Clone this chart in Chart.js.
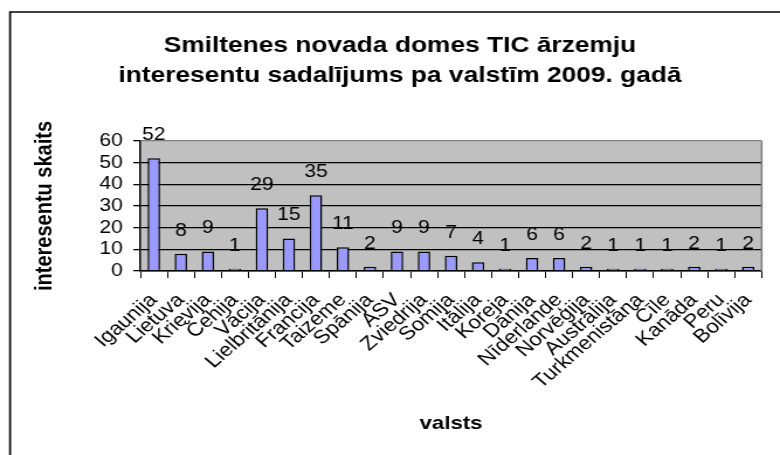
<!DOCTYPE html>
<html>
<head>
<meta charset="utf-8">
<script src="https://cdn.jsdelivr.net/npm/chart.js@4/dist/chart.umd.min.js"></script>
<style>
  html, body { margin: 0; padding: 0; background: #ffffff; overflow: hidden; }
  #c { display: block; transform-origin: 0 0; transform: scaleX(1.1694); }
</style>
</head>
<body>
<canvas id="c" width="667" height="455" style="width:667px;height:455px"></canvas>
<script>
const titleLines = ["Smiltenes novada domes TIC ārzemju", "interesentu sadalījums pa valstīm 2009. gadā"];
const yAxisTitle = "interesentu skaits";
const xAxisTitle = "valsts";
const countries = ["Igaunija", "Lietuva", "Krievija", "Čehija", "Vācija", "Lielbritānija", "Francija", "Taizeme", "Spānija", "ASV", "Zviedrija", "Somija", "Itālija", "Koreja", "Dānija", "Nīderlande", "Norvēģija", "Austrālija", "Turkmenistāna", "Čīle", "Kanāda", "Peru", "Bolīvija"];
const visitors = [52, 8, 9, 1, 29, 15, 35, 11, 2, 9, 9, 7, 4, 1, 6, 6, 2, 1, 1, 1, 2, 1, 2];
const yTicks = [0, 10, 20, 30, 40, 50, 60];

const FONT = "'Liberation Sans', Arial, sans-serif";

const decorPlugin = {
  id: 'decor',
  beforeDraw(chart) {
    const ctx = chart.ctx;
    const a = chart.chartArea;
    ctx.save();
    ctx.fillStyle = '#C0C0C0';
    ctx.fillRect(a.left, a.top, a.right - a.left, a.bottom - a.top);
    ctx.restore();
  },
  afterDatasetsDraw(chart) {
    const ctx = chart.ctx;
    const a = chart.chartArea;
    ctx.save();
    ctx.strokeStyle = '#808080';
    ctx.lineWidth = 1.5;
    ctx.beginPath();
    ctx.moveTo(a.right, a.top);
    ctx.lineTo(a.right, a.bottom);
    ctx.stroke();
    const meta = chart.getDatasetMeta(0);
    ctx.fillStyle = '#000';
    ctx.font = '18px ' + FONT;
    ctx.textAlign = 'center';
    ctx.textBaseline = 'middle';
    meta.data.forEach((bar, i) => {
      ctx.fillText(String(visitors[i]), bar.x, bar.y - 23);
    });
    ctx.restore();
  },
  afterDraw(chart) {
    const ctx = chart.ctx;
    ctx.save();
    ctx.fillStyle = '#000';
    ctx.font = 'bold 22.5px ' + FONT;
    ctx.textAlign = 'center';
    ctx.textBaseline = 'alphabetic';
    ctx.fillText(titleLines[0], 342, 52);
    ctx.fillText(titleLines[1], 342, 82);
    ctx.strokeStyle = '#000';
    ctx.lineWidth = 1.7;
    ctx.beginPath();
    ctx.moveTo(8.6, 470);
    ctx.lineTo(8.6, 12);
    ctx.lineTo(700, 12);
    ctx.stroke();
    ctx.restore();
  }
};

new Chart(document.getElementById('c'), {
  type: 'bar',
  data: {
    labels: countries,
    datasets: [{
      data: visitors,
      backgroundColor: '#9999FF',
      borderColor: '#000000',
      borderWidth: 1.5,
      barPercentage: 0.46,
      categoryPercentage: 1.0
    }]
  },
  options: {
    responsive: false,
    animation: false,
    devicePixelRatio: 1,
    layout: { padding: { left: 10, right: 3, top: 141, bottom: 0 } },
    plugins: {
      legend: { display: false },
      title: { display: false },
      tooltip: { enabled: false }
    },
    scales: {
      x: {
        afterFit(scale) { scale.height = 184; },
        grid: {
          offset: true,
          drawOnChartArea: false,
          drawTicks: true,
          tickLength: 7,
          color: '#000',
          tickColor: '#000'
        },
        border: { display: true, color: '#000', width: 1.5 },
        ticks: {
          autoSkip: false,
          minRotation: 45,
          maxRotation: 45,
          padding: 11,
          color: '#000',
          font: { family: FONT, size: 19 }
        },
        title: {
          display: true,
          text: xAxisTitle,
          color: '#000',
          font: { family: FONT, size: 19, weight: 'bold' },
          padding: { top: 0, bottom: 20 }
        }
      },
      y: {
        min: 0,
        max: 60,
        afterFit(scale) { scale.width = 110; },
        afterBuildTicks(scale) { scale.ticks = yTicks.map(v => ({ value: v })); },
        grid: {
          color: (c) => (c.tick && c.tick.value === 60) ? '#808080' : '#000',
          tickColor: '#000',
          lineWidth: 1.3,
          tickLength: 6
        },
        border: { display: true, color: '#000', width: 1.5 },
        ticks: {
          autoSkip: false,
          padding: 9,
          color: '#000',
          font: { family: FONT, size: 18 }
        },
        title: {
          display: true,
          text: yAxisTitle,
          color: '#000',
          font: { family: FONT, size: 20, weight: 'bold' },
          padding: { top: 16, bottom: 0 }
        }
      }
    }
  },
  plugins: [decorPlugin]
});
</script>
</body>
</html>
